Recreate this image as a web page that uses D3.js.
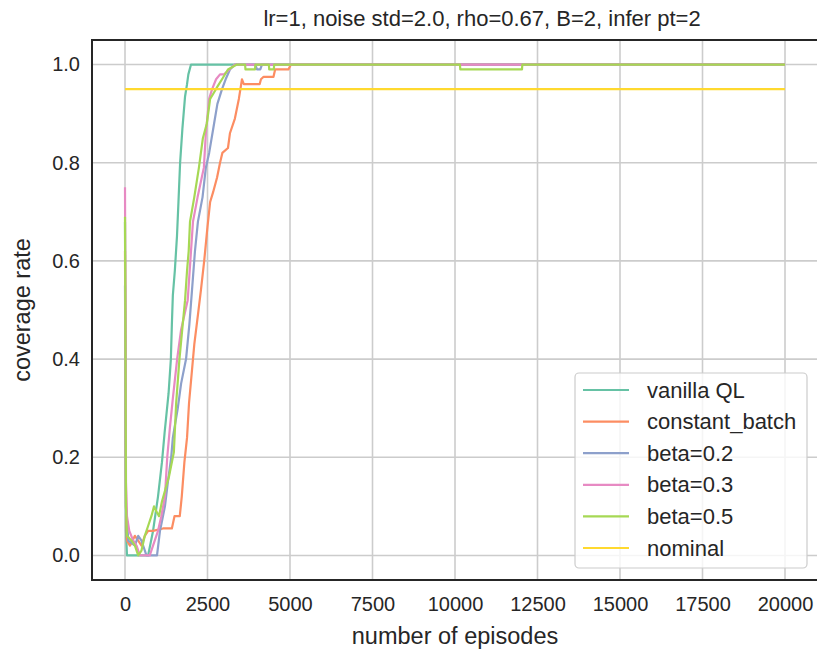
<!DOCTYPE html>
<html>
<head>
<meta charset="utf-8">
<script src="https://cdn.jsdelivr.net/npm/d3@7"></script>
<style>
  html, body { margin: 0; padding: 0; background: #ffffff; }
  svg { display: block; }
  text { font-family: "Liberation Sans", Arial, sans-serif; fill: #262626; }
</style>
</head>
<body>
<svg id="chart" width="817" height="651"></svg>
<script>
// ---------------- data ----------------
const titleText = "lr=1, noise std=2.0, rho=0.67, B=2, infer pt=2";
const xLabel = "number of episodes";
const yLabel = "coverage rate";
const xTicks = [0, 2500, 5000, 7500, 10000, 12500, 15000, 17500, 20000];
const yTicks = [0.0, 0.2, 0.4, 0.6, 0.8, 1.0];
const seriesNames = ["vanilla QL", "constant_batch", "beta=0.2", "beta=0.3", "beta=0.5", "nominal"];
const seriesColors = ["#66c2a5", "#fc8d62", "#8da0cb", "#e78ac3", "#a6d854", "#ffd92f"];

const vanillaQL = [[0,0.68],[30,0.05],[60,0.0],[700,0.0],[850,0.05],[1000,0.12],[1120,0.19],[1200,0.25],[1320,0.33],[1390,0.40],[1420,0.47],[1450,0.53],[1510,0.58],[1575,0.65],[1620,0.72],[1670,0.80],[1740,0.87],[1820,0.935],[1880,0.96],[1920,0.98],[2000,1.0],[20000,1.0]];
const constantBatch = [[0,0.62],[30,0.1],[60,0.03],[150,0.02],[300,0.04],[400,0.03],[500,0.02],[600,0.04],[700,0.05],[850,0.05],[1150,0.055],[1420,0.055],[1500,0.08],[1660,0.08],[1720,0.12],[1800,0.19],[1880,0.24],[1940,0.31],[2060,0.40],[2100,0.43],[2210,0.49],[2300,0.54],[2400,0.60],[2500,0.67],[2580,0.72],[2670,0.74],[2790,0.77],[2880,0.80],[2950,0.82],[3120,0.83],[3180,0.86],[3330,0.89],[3450,0.93],[3545,0.97],[3600,0.96],[3750,0.96],[4080,0.96],[4120,0.97],[4200,0.975],[4500,0.975],[4550,0.99],[4950,0.99],[5030,1.0],[20000,1.0]];
const beta02 = [[0,0.55],[30,0.1],[100,0.03],[300,0.02],[400,0.04],[500,0.03],[650,0.0],[970,0.0],[1060,0.05],[1210,0.10],[1300,0.15],[1400,0.2],[1450,0.24],[1600,0.30],[1700,0.35],[1850,0.40],[1950,0.47],[2030,0.54],[2120,0.62],[2210,0.68],[2350,0.73],[2450,0.79],[2550,0.82],[2700,0.88],[2800,0.92],[2940,0.95],[3050,0.97],[3180,0.99],[3330,1.0],[3950,1.0],[4000,0.99],[4100,0.99],[4150,1.0],[20000,1.0]];
const beta03 = [[0,0.75],[30,0.15],[60,0.08],[130,0.05],[250,0.03],[350,0.02],[450,0.0],[750,0.0],[850,0.02],[1000,0.05],[1100,0.08],[1210,0.12],[1280,0.2],[1360,0.26],[1450,0.32],[1580,0.40],[1700,0.46],[1900,0.52],[2000,0.62],[2060,0.68],[2200,0.73],[2390,0.79],[2450,0.86],[2550,0.93],[2640,0.95],[2760,0.97],[2880,0.98],[3000,0.98],[3330,1.0],[20000,1.0]];
const beta05 = [[0,0.69],[30,0.1],[60,0.04],[200,0.03],[300,0.02],[400,0.0],[500,0.01],[600,0.04],[700,0.06],[800,0.08],[880,0.10],[950,0.09],[1030,0.08],[1120,0.11],[1330,0.16],[1480,0.21],[1550,0.31],[1650,0.40],[1720,0.45],[1820,0.52],[1880,0.58],[1930,0.62],[1970,0.68],[2100,0.73],[2240,0.79],[2360,0.85],[2480,0.88],[2580,0.93],[2670,0.94],[2800,0.955],[2940,0.97],[3120,0.99],[3390,1.0],[3640,1.0],[3650,0.99],[3940,0.99],[3950,1.0],[4360,1.0],[4370,0.99],[4510,0.99],[4520,1.0],[10150,1.0],[10160,0.99],[12030,0.99],[12040,1.0],[20000,1.0]];
const nominal = [[0,0.95],[20000,0.95]];

const allSeries = [vanillaQL, constantBatch, beta02, beta03, beta05, nominal];

// ---------------- layout ----------------
const svg = d3.select("#chart");
const L = 92, R = 818, T = 40, B = 580;
const x = d3.scaleLinear().domain([-1000, 21000]).range([L, R]);
const y = d3.scaleLinear().domain([-0.05, 1.05]).range([B, T]);
const FONT = "'Liberation Sans', Arial, sans-serif";

svg.append("defs").append("clipPath").attr("id", "clip")
  .append("rect").attr("x", L).attr("y", T).attr("width", R - L).attr("height", B - T);

// grid
const grid = svg.append("g");
grid.selectAll(".gx").data(xTicks).enter().append("line")
  .attr("x1", d => x(d)).attr("x2", d => x(d)).attr("y1", T).attr("y2", B)
  .attr("stroke", "#cccccc").attr("stroke-width", 1.6);
grid.selectAll(".gy").data(yTicks).enter().append("line")
  .attr("x1", L).attr("x2", R).attr("y1", d => y(d)).attr("y2", d => y(d))
  .attr("stroke", "#cccccc").attr("stroke-width", 1.6);

// lines
const line = d3.line().x(d => x(d[0])).y(d => y(d[1]));
const lines = svg.append("g").attr("clip-path", "url(#clip)");
allSeries.forEach((s, i) => {
  lines.append("path").datum(s)
    .attr("d", line)
    .attr("fill", "none")
    .attr("stroke", seriesColors[i])
    .attr("stroke-width", 2.2)
    .attr("stroke-linejoin", "round");
});

// axes (tick labels only, no tick marks)
const xAxis = d3.axisBottom(x).tickValues(xTicks).tickFormat(d3.format("d")).tickSize(0).tickPadding(17);
const gx = svg.append("g").attr("transform", `translate(0,${B})`).call(xAxis);
gx.select(".domain").remove();
gx.selectAll("text").attr("font-size", 20).attr("fill", "#262626").style("font-family", FONT);

const yAxis = d3.axisLeft(y).tickValues(yTicks).tickFormat(d3.format(".1f")).tickSize(0).tickPadding(12);
const gy = svg.append("g").attr("transform", `translate(${L},0)`).call(yAxis);
gy.select(".domain").remove();
gy.selectAll("text").attr("font-size", 20).attr("fill", "#262626").style("font-family", FONT);

// spines
const spine = svg.append("g").attr("stroke", "#262626").attr("stroke-width", 2).attr("fill", "none");
spine.append("line").attr("x1", L).attr("x2", L).attr("y1", T - 1).attr("y2", B + 1);
spine.append("line").attr("x1", L - 1).attr("x2", R).attr("y1", B).attr("y2", B);
spine.append("line").attr("x1", L - 1).attr("x2", R).attr("y1", T).attr("y2", T);

// title and labels
svg.append("text").attr("x", 482).attr("y", 26).attr("text-anchor", "middle")
  .attr("font-size", 22).text(titleText);
svg.append("text").attr("x", 455).attr("y", 644).attr("text-anchor", "middle")
  .attr("font-size", 23.5).text(xLabel);
svg.append("text").attr("transform", `translate(30,${(T + B) / 2}) rotate(-90)`)
  .attr("text-anchor", "middle").attr("font-size", 23.5).text(yLabel);

// legend
const lg = svg.append("g");
lg.append("rect").attr("x", 575).attr("y", 373).attr("width", 232).attr("height", 195)
  .attr("rx", 4).attr("fill", "#ffffff").attr("fill-opacity", 0.8)
  .attr("stroke", "#cccccc").attr("stroke-width", 1.2);
seriesNames.forEach((name, i) => {
  const cy = 390 + i * 31.6;
  lg.append("line").attr("x1", 583).attr("x2", 629).attr("y1", cy).attr("y2", cy)
    .attr("stroke", seriesColors[i]).attr("stroke-width", 2.2);
  lg.append("text").attr("x", 647).attr("y", cy + 7.5).attr("font-size", 22).text(name);
});
</script>
</body>
</html>
